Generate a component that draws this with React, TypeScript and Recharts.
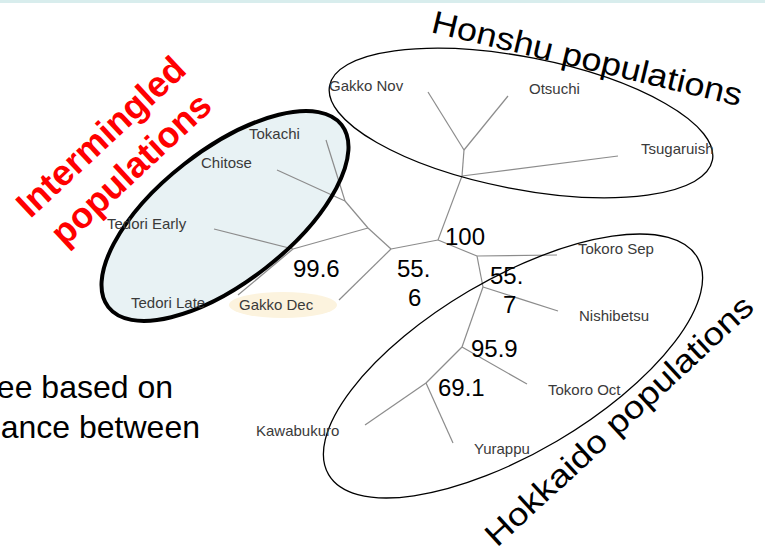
import { ScatterChart, Scatter, XAxis, YAxis, ReferenceArea } from "recharts";

const W = 765;
const H = 557;
const FONT = "'Liberation Sans', Arial, sans-serif";

// tree layout (picture units: x right, y down)
const nodes: Record<string, [number, number]> = {
  gakkoNov: [428, 92],
  otsuchi: [508, 96],
  tsugaruish: [618, 156],
  tokoroSep: [557, 255],
  nishibetsu: [558, 311],
  tokoroOct: [527, 384],
  kawabukuro: [365, 425],
  yurappu: [453, 443],
  gakkoDec: [339, 300],
  tedoriLate: [238, 295],
  tedoriEarly: [214, 229],
  chitose: [277, 170],
  tokachi: [326, 140],
  h1: [464, 150],
  h2: [462, 176],
  n100: [438, 240],
  n556: [391, 249],
  nSep: [477, 256],
  n557: [483, 287],
  n959: [462, 347],
  n691: [426, 383],
  nB: [368, 228],
  nA: [345, 201],
  n996: [293, 249],
};

const edges: [string, string][] = [
  ["h1", "gakkoNov"],
  ["h1", "otsuchi"],
  ["h1", "h2"],
  ["h2", "tsugaruish"],
  ["h2", "n100"],
  ["n100", "n556"],
  ["n100", "nSep"],
  ["nSep", "tokoroSep"],
  ["nSep", "n557"],
  ["n557", "nishibetsu"],
  ["n557", "n959"],
  ["n959", "tokoroOct"],
  ["n959", "n691"],
  ["n691", "kawabukuro"],
  ["n691", "yurappu"],
  ["n556", "gakkoDec"],
  ["n556", "nB"],
  ["nB", "nA"],
  ["nA", "tokachi"],
  ["nA", "chitose"],
  ["nB", "n996"],
  ["n996", "tedoriEarly"],
  ["n996", "tedoriLate"],
];

const tipLabels = [
  { text: "Gakko Nov", x: 329, y: 91 },
  { text: "Otsuchi", x: 529, y: 94 },
  { text: "Tsugaruish", x: 641, y: 154 },
  { text: "Tokachi", x: 249, y: 139 },
  { text: "Chitose", x: 201, y: 168 },
  { text: "Tedori Early", x: 107, y: 229 },
  { text: "Tedori Late", x: 131, y: 308 },
  { text: "Gakko Dec", x: 239, y: 310 },
  { text: "Tokoro Sep", x: 578, y: 254 },
  { text: "Nishibetsu", x: 579, y: 321 },
  { text: "Tokoro Oct", x: 548, y: 395 },
  { text: "Kawabukuro", x: 256, y: 436 },
  { text: "Yurappu", x: 474, y: 454 },
];

const supports = [
  { text: "100", x: 445, y: 245 },
  { text: "99.6", x: 293, y: 277 },
  { text: "55.", x: 397, y: 277 },
  { text: "6", x: 408, y: 306 },
  { text: "55.", x: 490, y: 284 },
  { text: "7", x: 503, y: 313 },
  { text: "95.9", x: 471, y: 357 },
  { text: "69.1", x: 438, y: 396 },
];

const groups = [
  { name: "intermingled", x: 225, y: 216, rx: 148, ry: 66, angle: -38 },
  { name: "honshu", x: 521, y: 123, rx: 195, ry: 66, angle: 11 },
  { name: "hokkaido", x: 513, y: 366, rx: 214, ry: 87, angle: -30.5 },
];
const highlight = [{ name: "gakkoDec", x: 283, y: 305, rx: 54, ry: 13, angle: 0 }];

const groupTitles = [
  { text: "Honshu populations", x: 430, y: 32, angle: 13.5, len: 318 },
  { text: "Hokkaido populations", x: 497, y: 548, angle: -42.7, len: 352 },
];
const caption = [
  { text: "ee based on", x: 173, y: 398 },
  { text: "ance between", x: 200, y: 438 },
];
const redTitle = [{ lines: ["Intermingled", "populations"], x: 116, y: 153, angle: -43 }];

const strokeFor: Record<string, number> = { intermingled: 4, honshu: 1.3, hokkaido: 1.3 };

const noDot = () => <g />;

function ellipseShape(fill: string, stroke: string | null) {
  return (p: any) => {
    const d = p.payload;
    return (
      <ellipse
        cx={p.cx}
        cy={p.cy}
        rx={d.rx}
        ry={d.ry}
        transform={`rotate(${d.angle} ${p.cx} ${p.cy})`}
        fill={fill}
        stroke={stroke ?? "none"}
        strokeWidth={stroke ? strokeFor[d.name] ?? 1 : 0}
      />
    );
  };
}

export default function App() {
  return (
    <div style={{ position: "absolute", left: 0, top: 0, width: W, height: H, background: "#fff" }}>
      <ScatterChart width={W} height={H} margin={{ top: 0, right: 0, bottom: 0, left: 0 }}>
        <XAxis type="number" dataKey="x" domain={[0, W]} allowDataOverflow hide />
        <YAxis type="number" dataKey="y" domain={[0, H]} allowDataOverflow reversed hide width={0} />
        <ReferenceArea x1={0} x2={W} y1={0} y2={3} fill="#d8eded" fillOpacity={1} stroke="none" />

        <Scatter data={highlight} isAnimationActive={false} shape={ellipseShape("#fcf3de", null)} />
        <Scatter
          data={groups.filter((g) => g.name === "intermingled")}
          isAnimationActive={false}
          shape={ellipseShape("#e8f2f4", null)}
        />

        {edges.map(([a, b], i) => (
          <Scatter
            key={i}
            data={[
              { x: nodes[a][0], y: nodes[a][1] },
              { x: nodes[b][0], y: nodes[b][1] },
            ]}
            line={{ stroke: "#8c8c8c", strokeWidth: 1.2 }}
            shape={noDot}
            isAnimationActive={false}
          />
        ))}

        <Scatter data={groups} isAnimationActive={false} shape={ellipseShape("none", "#000")} />

        <Scatter
          data={tipLabels}
          isAnimationActive={false}
          shape={(p: any) => (
            <text x={p.cx} y={p.cy} fontFamily={FONT} fontSize={15} fill="#3a3a3a">
              {p.payload.text}
            </text>
          )}
        />
        <Scatter
          data={supports}
          isAnimationActive={false}
          shape={(p: any) => (
            <text x={p.cx} y={p.cy} fontFamily={FONT} fontSize={24} fill="#000">
              {p.payload.text}
            </text>
          )}
        />
        <Scatter
          data={groupTitles}
          isAnimationActive={false}
          shape={(p: any) => (
            <text
              x={p.cx}
              y={p.cy}
              fontFamily={FONT}
              fontSize={32}
              fill="#000"
              textLength={p.payload.len}
              lengthAdjust="spacingAndGlyphs"
              transform={`rotate(${p.payload.angle} ${p.cx} ${p.cy})`}
            >
              {p.payload.text}
            </text>
          )}
        />
        <Scatter
          data={caption}
          isAnimationActive={false}
          shape={(p: any) => (
            <text x={p.cx} y={p.cy} fontFamily={FONT} fontSize={32} fill="#000" textAnchor="end">
              {p.payload.text}
            </text>
          )}
        />
        <Scatter
          data={redTitle}
          isAnimationActive={false}
          shape={(p: any) => (
            <g transform={`translate(${p.cx} ${p.cy}) rotate(${p.payload.angle})`}>
              <text x={0} y={-10} fontFamily={FONT} fontSize={36} fontWeight="bold" fill="#ff0000" textAnchor="middle">
                {p.payload.lines[0]}
              </text>
              <text x={0} y={34} fontFamily={FONT} fontSize={36} fontWeight="bold" fill="#ff0000" textAnchor="middle">
                {p.payload.lines[1]}
              </text>
            </g>
          )}
        />
      </ScatterChart>
    </div>
  );
}
